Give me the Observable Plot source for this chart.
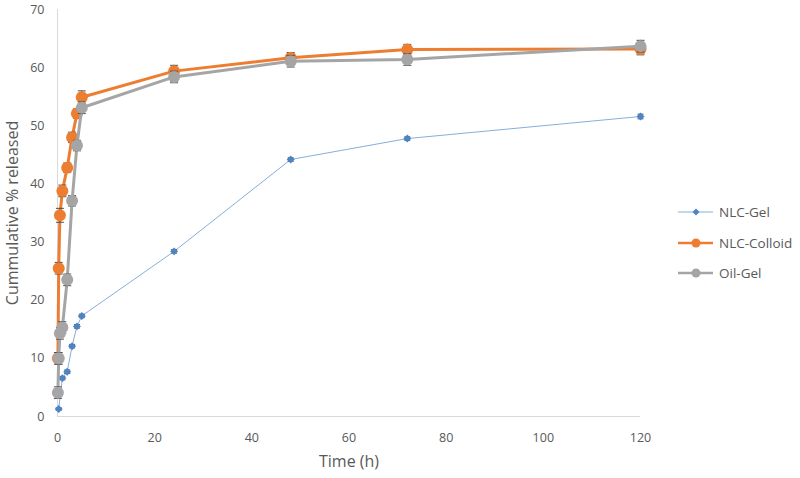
<!DOCTYPE html>
<html>
<head>
<meta charset="utf-8">
<script src="https://cdn.jsdelivr.net/npm/d3@7"></script>
<script src="https://cdn.jsdelivr.net/npm/@observablehq/plot@0.6"></script>
<style>
  body { margin: 0; background: #ffffff; }
  #wrap { position: relative; width: 800px; height: 478px; font-family: "Open Sans", sans-serif; }
  #legend { position: absolute; left: 678px; top: 0; font-size: 13.5px; color: #595959; }
  .item { position: absolute; left: 0; display: flex; align-items: center; white-space: nowrap; }
  .item svg { margin-right: 5px; }
</style>
</head>
<body>
<div id="wrap"><div id="legend"></div></div>
<script>
// ---- data ----
const timeNlcGel = [0.25, 1, 2, 3, 4, 5, 24, 48, 72, 120];
const nlcGel     = [1.3, 6.6, 7.7, 12.1, 15.5, 17.3, 28.4, 44.2, 47.8, 51.6];
const nlcGelErr  = [0.2, 0.3, 0.3, 0.3, 0.3, 0.3, 0.3, 0.3, 0.3, 0.4];

const timeOther     = [0.08, 0.25, 0.5, 1, 2, 3, 4, 5, 24, 48, 72, 120];
const nlcColloid    = [10, 25.5, 34.6, 38.8, 42.8, 48, 52.1, 54.9, 59.4, 61.7, 63.1, 63.2];
const nlcColloidErr = [1.0, 1.0, 1.2, 1.0, 0.8, 0.9, 0.8, 1.1, 1.0, 0.9, 0.9, 1.0];
const oilGel        = [4.1, 10, 14.3, 15.3, 23.5, 37.1, 46.6, 53.1, 58.4, 61.1, 61.4, 63.7];
const oilGelErr     = [1.0, 1.0, 1.0, 1.0, 1.0, 0.9, 0.9, 1.0, 1.0, 1.0, 1.0, 1.0];

const seriesNames = ["NLC-Gel", "NLC-Colloid", "Oil-Gel"];
const xTicks = [0, 20, 40, 60, 80, 100, 120];
const yTicks = [0, 10, 20, 30, 40, 50, 60, 70];

// ---- build tables ----
const mk = (t, v, e) => t.map((x, i) => ({x, y: v[i], e: e[i]}));
const gel = mk(timeNlcGel, nlcGel, nlcGelErr);
const col = mk(timeOther, nlcColloid, nlcColloidErr);
const oil = mk(timeOther, oilGel, oilGelErr);

const styles = {
  "NLC-Gel":     {line: "#86aedb", lw: 1,   dot: "#4e84c4", r: 3.6, symbol: "diamond2"},
  "NLC-Colloid": {line: "#ed7d31", lw: 3,   dot: "#ed7d31", r: 6,   symbol: "circle"},
  "Oil-Gel":     {line: "#a5a5a5", lw: 3,   dot: "#a5a5a5", r: 6,   symbol: "circle"}
};

// horizontal cap symbol for error bars
const capSymbol = {
  draw(ctx, size) {
    const r = Math.sqrt(size / Math.PI);
    ctx.moveTo(-r, 0);
    ctx.lineTo(r, 0);
  }
};

function seriesMarks(data, name, capR) {
  const s = styles[name];
  return [
    Plot.line(data, {x: "x", y: "y", stroke: s.line, strokeWidth: s.lw, curve: "linear"}),
    Plot.ruleX(data, {x: "x", y1: d => d.y - d.e, y2: d => d.y + d.e, stroke: "#505050", strokeWidth: 1}),
    Plot.dot(data, {x: "x", y: d => d.y + d.e, symbol: capSymbol, r: capR, stroke: "#505050", strokeWidth: 1}),
    Plot.dot(data, {x: "x", y: d => d.y - d.e, symbol: capSymbol, r: capR, stroke: "#505050", strokeWidth: 1}),
    Plot.dot(data, {x: "x", y: "y", symbol: s.symbol, r: s.r, fill: s.dot, stroke: "none"})
  ];
}

const chart = Plot.plot({
  width: 800,
  height: 478,
  marginLeft: 57,
  marginRight: 160,
  marginTop: 9,
  marginBottom: 62,
  style: {fontFamily: "Open Sans, sans-serif", fontSize: "12.5px", color: "#595959", background: "#ffffff"},
  x: {domain: [0, 120], ticks: xTicks, tickSize: 0, tickPadding: 17, label: "Time (h)", labelAnchor: "center", labelOffset: 50},
  y: {domain: [0, 70], ticks: yTicks, tickSize: 0, tickPadding: 13, label: "Cummulative % released", labelAnchor: "center", labelOffset: 51, labelArrow: "none"},
  marks: [
    Plot.ruleX([0], {stroke: "#d9d9d9", strokeWidth: 1}),
    Plot.ruleY([0], {stroke: "#d9d9d9", strokeWidth: 1}),
    ...seriesMarks(gel, "NLC-Gel", 3),
    ...seriesMarks(col, "NLC-Colloid", 4),
    ...seriesMarks(oil, "Oil-Gel", 4),
    Plot.axisX({ticks: xTicks, tickSize: 0, tickPadding: 17, label: "Time (h)", labelAnchor: "center", labelOffset: 50, labelArrow: "none", fontSize: 12.5}),
    Plot.axisY({ticks: yTicks, tickSize: 0, tickPadding: 13, label: "Cummulative % released", labelAnchor: "center", labelOffset: 51, labelArrow: "none", fontSize: 12.5})
  ]
});
// enlarge axis titles
chart.querySelectorAll("[aria-label='x-axis label'] text, [aria-label='y-axis label'] text").forEach(t => t.setAttribute("font-size", "16px"));
document.getElementById("wrap").prepend(chart);
chart.style.position = "absolute";
chart.style.left = "0";
chart.style.top = "0";

// ---- legend ----
const legendTops = [212, 243, 273];
const legend = document.getElementById("legend");
seriesNames.forEach((name, i) => {
  const s = styles[name];
  const div = document.createElement("div");
  div.className = "item";
  div.style.top = (legendTops[i] - 10) + "px";
  const marker = s.symbol === "circle"
    ? `<circle cx="18" cy="10" r="4.5" fill="${s.dot}"/>`
    : `<path d="M18,6.5L21.5,10L18,13.5L14.5,10Z" fill="${s.dot}"/>`;
  div.innerHTML = `<svg width="36" height="20"><line x1="0" x2="35" y1="10" y2="10" stroke="${s.line}" stroke-width="${Math.min(s.lw, 2.5)}"/>${marker}</svg><span>${name}</span>`;
  legend.appendChild(div);
});
legend.style.zIndex = 2;
</script>
</body>
</html>
